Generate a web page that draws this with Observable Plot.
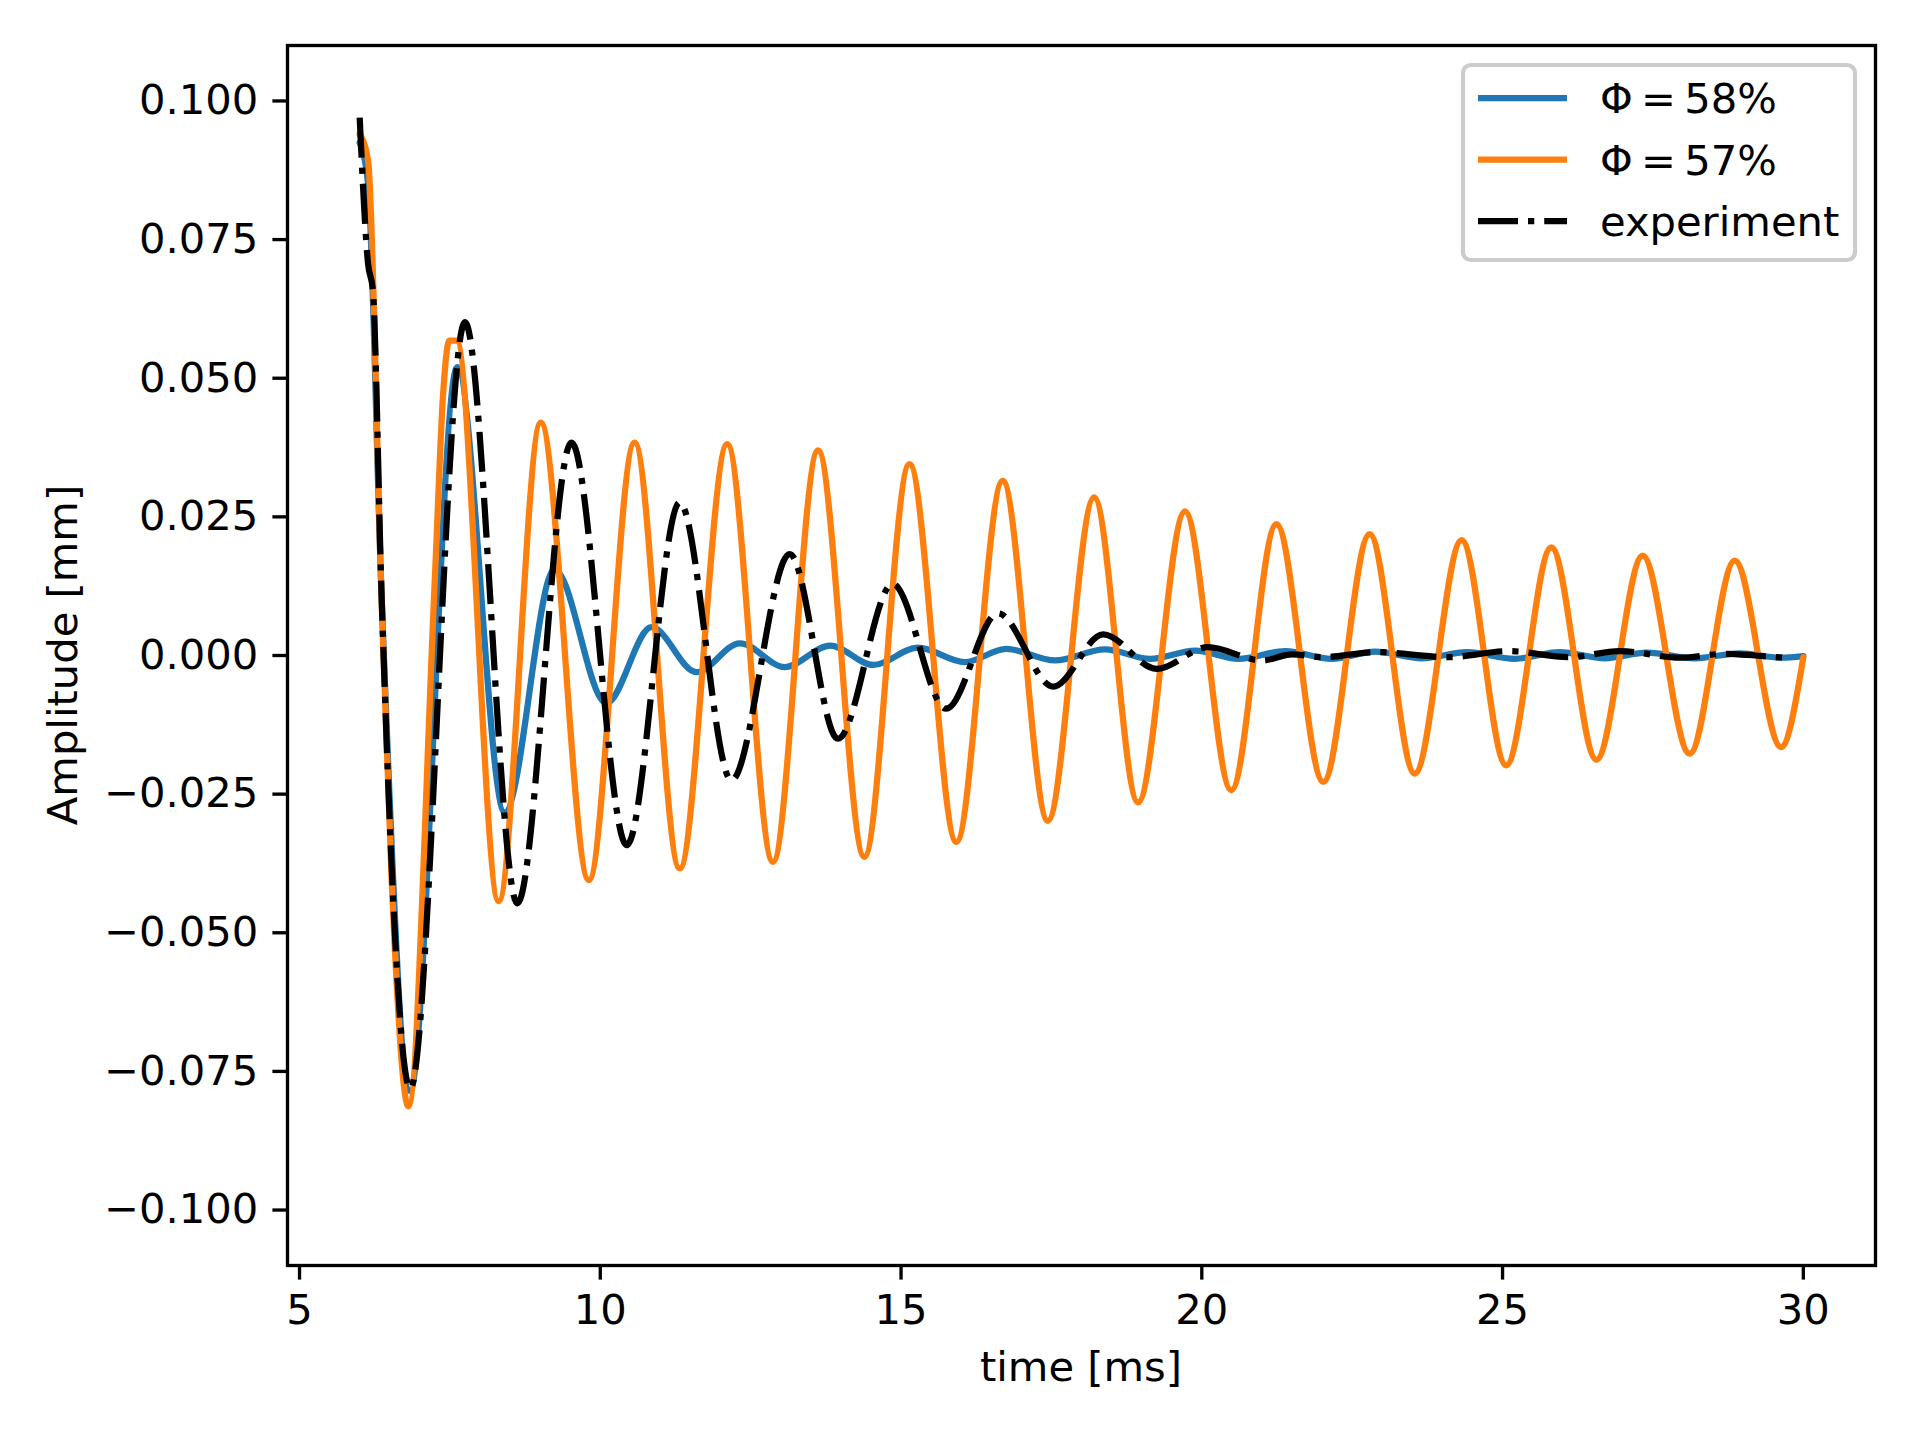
<!DOCTYPE html>
<html>
<head>
<meta charset="utf-8">
<script src="https://cdn.jsdelivr.net/npm/d3@7"></script>
<script src="https://cdn.jsdelivr.net/npm/@observablehq/plot@0.6"></script>
<style>
  html, body { margin: 0; padding: 0; background: #ffffff; }
  #chart svg { display: block; }
</style>
</head>
<body>
<div id="chart"></div>
<script>
// ---- data ----
const seriesNames = ["\u03A6\u2009=\u200958%", "\u03A6\u2009=\u200957%", "experiment"];
const seriesColors = ["#1f77b4", "#ff7f0e", "#000000"];

const phi58Time = [6.0, 6.14, 6.36, 6.84, 7.62, 8.41, 9.24, 10.1, 10.85, 11.6, 12.32, 13.07, 13.82, 14.54, 15.28, 16.06, 16.75, 17.56, 18.39, 19.14, 19.89, 20.61, 21.39, 22.16, 22.88, 23.66, 24.41, 25.2, 25.95, 26.7, 27.4, 28.2, 28.94, 29.63, 30.0];
const phi58Amp  = [0.0925, 0.085, 0.012, -0.0785, 0.052, -0.0283, 0.0155, -0.0086, 0.0051, -0.0030, 0.0022, -0.0021, 0.0018, -0.0017, 0.0014, -0.0012, 0.0012, -0.0009, 0.0011, -0.0006, 0.0009, -0.0006, 0.0008, -0.0006, 0.0007, -0.0005, 0.0006, -0.0006, 0.0006, -0.0005, 0.0005, -0.0005, 0.0004, -0.0004, -0.0001];

const phi57Time = [6.0, 6.14, 6.36, 6.53, 6.81, 7.25, 7.39, 7.49, 7.61, 8.31, 9.01, 9.81, 10.57, 11.32, 12.11, 12.87, 13.62, 14.39, 15.14, 15.92, 16.69, 17.44, 18.21, 18.94, 19.72, 20.49, 21.24, 22.02, 22.79, 23.54, 24.32, 25.06, 25.81, 26.56, 27.33, 28.11, 28.86, 29.63, 30.0];
const phi57Amp  = [0.094, 0.0892, 0.0117, -0.040, -0.0813, 0.014, 0.0477, 0.0568, 0.0568, -0.0443, 0.0420, -0.0405, 0.0384, -0.0384, 0.0381, -0.0372, 0.0370, -0.0363, 0.0345, -0.0336, 0.0315, -0.0298, 0.0285, -0.0265, 0.0260, -0.0243, 0.0237, -0.0228, 0.0219, -0.0213, 0.0208, -0.0198, 0.0195, -0.0188, 0.0180, -0.0177, 0.0171, -0.0165, -0.0003];

const expTime = [6.0, 6.14, 6.22, 6.36, 6.84, 7.75, 8.62, 9.52, 10.44, 11.32, 12.18, 13.15, 13.95, 14.86, 15.75, 16.61, 17.53, 18.36, 19.25, 20.1, 21.0, 21.5, 22.0, 22.9, 24.1, 25.1, 26.1, 26.95, 27.95, 28.7, 29.2, 29.68];
const expAmp  = [0.097, 0.0706, 0.0658, 0.0123, -0.0781, 0.0601, -0.0447, 0.0384, -0.0342, 0.0276, -0.0225, 0.0183, -0.0150, 0.0129, -0.0096, 0.0076, -0.0056, 0.0038, -0.0024, 0.0015, -0.0009, 0.0002, -0.0003, 0.0006, -0.0003, 0.0008, -0.0003, 0.0008, -0.0004, 0.0003, 0.0000, -0.0004];

const xTicks = [5, 10, 15, 20, 25, 30];
const yTicks = [-0.100, -0.075, -0.050, -0.025, 0.000, 0.025, 0.050, 0.075, 0.100];
const xDomain = [4.8, 31.2];
const yDomain = [-0.11, 0.11];
const xLabel = "time [ms]";
const yLabel = "Amplitude [mm]";

// ---- build tables ----
const toRows = (ts, vs) => ts.map((t, i) => ({t, v: vs[i]}));
const phi58 = toRows(phi58Time, phi58Amp);
const phi57 = toRows(phi57Time, phi57Amp);
const experiment = toRows(expTime, expAmp);

// ---- style (matplotlib look at 300 dpi) ----
const W = 1920, H = 1440;
const FS = 41.67;         // 10 pt
const LW = 6.25;          // 1.5 pt
const AX = 3.33;          // 0.8 pt
const TICK = 14.6;        // 3.5 pt
const dashDot = "40,10,6.25,10";
const M = {left: 287, right: 45, top: 45, bottom: 175};

const chart = Plot.plot({
  width: W,
  height: H,
  marginLeft: M.left,
  marginRight: M.right,
  marginTop: M.top,
  marginBottom: M.bottom,
  style: {fontFamily: "'DejaVu Sans', sans-serif", fontSize: FS + "px", background: "#ffffff", color: "#000000", overflow: "visible"},
  x: {domain: xDomain, label: null},
  y: {domain: yDomain, label: null},
  marks: [
    Plot.line(phi58, {x: "t", y: "v", stroke: seriesColors[0], strokeWidth: LW, curve: "monotone-x", strokeLinejoin: "round"}),
    Plot.line(phi57, {x: "t", y: "v", stroke: seriesColors[1], strokeWidth: LW, curve: "monotone-x", strokeLinejoin: "round"}),
    Plot.line(experiment, {x: "t", y: "v", stroke: seriesColors[2], strokeWidth: LW, curve: "monotone-x", strokeDasharray: dashDot, strokeLinecap: "butt"}),
    Plot.axisX({ticks: xTicks, tickFormat: d => String(d), tickSize: TICK, tickPadding: TICK, strokeWidth: AX, fontSize: FS, label: null}),
    Plot.axisY({ticks: yTicks, tickFormat: d3.format(".3f"), tickSize: TICK, tickPadding: TICK, strokeWidth: AX, fontSize: FS, label: null}),
    Plot.frame({stroke: "#000000", strokeWidth: AX})
  ]
});

const svg = d3.select(chart);
const fr = {l: M.left, r: W - M.right, t: M.top, b: H - M.bottom};

// axis labels
svg.append("text")
  .attr("x", (fr.l + fr.r) / 2).attr("y", fr.b + 116)
  .attr("text-anchor", "middle")
  .attr("font-family", "'DejaVu Sans', sans-serif").attr("font-size", FS)
  .attr("fill", "#000").text(xLabel);
svg.append("text")
  .attr("transform", `translate(${77},${(fr.t + fr.b) / 2}) rotate(-90)`)
  .attr("text-anchor", "middle")
  .attr("font-family", "'DejaVu Sans', sans-serif").attr("font-size", FS)
  .attr("fill", "#000").text(yLabel);

// legend (upper right)
const pad = 20, lgW = 392, lgH = 195;
const lx = fr.r - pad - lgW, ly = fr.t + pad;
const lg = svg.append("g");
lg.append("rect")
  .attr("x", lx).attr("y", ly).attr("width", lgW).attr("height", lgH)
  .attr("rx", 8).attr("ry", 8)
  .attr("fill", "#ffffff").attr("fill-opacity", 0.8)
  .attr("stroke", "#cccccc").attr("stroke-width", 4.17);
const styles = [null, null, dashDot];
seriesNames.forEach((name, i) => {
  const cy = ly + 33 + i * 61.5;
  lg.append("line")
    .attr("x1", lx + 15).attr("x2", lx + 15 + 89)
    .attr("y1", cy).attr("y2", cy)
    .attr("stroke", seriesColors[i]).attr("stroke-width", LW)
    .attr("stroke-dasharray", styles[i]).attr("stroke-linecap", "butt");
  lg.append("text")
    .attr("x", lx + 137).attr("y", cy + 15)
    .attr("text-anchor", "start")
    .attr("font-family", "'DejaVu Sans', sans-serif").attr("font-size", FS)
    .attr("fill", "#000").text(name);
});

document.getElementById("chart").appendChild(chart);
</script>
</body>
</html>
